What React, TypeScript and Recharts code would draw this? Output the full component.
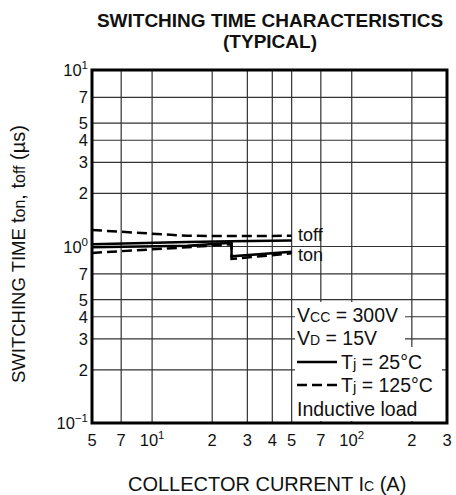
import { LineChart, Line, XAxis, YAxis, CartesianGrid, ReferenceArea } from 'recharts';

const FONT = '"Liberation Sans", Arial, Helvetica, sans-serif';

// axis ticks (log grid)
const X_TICKS = [5, 7, 10, 20, 30, 40, 50, 70, 100, 200, 300];
const Y_TICKS = [0.1, 0.2, 0.3, 0.4, 0.5, 0.7, 1, 2, 3, 4, 5, 7, 10];

// collector current (A)
const IC_OFF_125 = [5, 15, 25, 50];
const IC_OFF_25 = [5, 15, 25, 50];
const IC_ON_25 = [5, 15, 25, 25, 50];
const IC_ON_125 = [5, 15, 25, 25, 50];

// switching time (us)
const TOFF_125 = [1.24, 1.15, 1.145, 1.15];
const TOFF_25 = [1.03, 1.06, 1.07, 1.08];
const TON_25 = [0.99, 1.01, 1.05, 0.88, 0.935];
const TON_125 = [0.92, 0.99, 1.03, 0.85, 0.915];

const toPoints = (xs: number[], ys: number[]) => xs.map((x, i) => ({ x, y: ys[i] }));

const series = [
  { key: 'toff125', data: toPoints(IC_OFF_125, TOFF_125), dash: '10 5' },
  { key: 'toff25', data: toPoints(IC_OFF_25, TOFF_25), dash: undefined },
  { key: 'ton25', data: toPoints(IC_ON_25, TON_25), dash: undefined },
  { key: 'ton125', data: toPoints(IC_ON_125, TON_125), dash: '10 5' },
];

function tickText(v: number) {
  const e = Math.floor(Math.log10(v) + 1e-9);
  const mant = Math.round(v / Math.pow(10, e));
  if (mant === 1) {
    return [
      '10',
      <tspan key="s" dy={-7} fontSize={11.5}>
        {e < 0 ? '\u2212' + Math.abs(e) : String(e)}
      </tspan>,
    ];
  }
  return String(mant);
}

function XTick(props: any) {
  const { x, payload } = props;
  return (
    <text x={x} y={446} textAnchor="middle" fontSize={16.5} fontFamily={FONT} fill="#111">
      {tickText(payload.value)}
    </text>
  );
}

function YTick(props: any) {
  const { y, payload } = props;
  return (
    <text x={88} y={y + 6} textAnchor="end" fontSize={16.5} fontFamily={FONT} fill="#111">
      {tickText(payload.value)}
    </text>
  );
}

export default function App() {
  return (
    <div style={{ position: 'absolute', left: 0, top: 0, width: 456, height: 495, background: '#fff' }}>
      <LineChart width={456} height={495} margin={{ top: 70, right: 9, bottom: 0, left: 0 }}>
        <CartesianGrid stroke="#333" strokeWidth={1.2} />
        <XAxis
          dataKey="x"
          type="number"
          scale="log"
          domain={[5, 300]}
          ticks={X_TICKS}
          interval={0}
          allowDataOverflow
          axisLine={false}
          tickLine={false}
          height={72}
          tick={<XTick />}
        />
        <YAxis
          type="number"
          scale="log"
          domain={[0.1, 10]}
          ticks={Y_TICKS}
          interval={0}
          allowDataOverflow
          axisLine={false}
          tickLine={false}
          width={92}
          tick={<YTick />}
        />
        {series.map((s) => (
          <Line
            key={s.key}
            data={s.data}
            dataKey="y"
            type="linear"
            stroke="#000"
            strokeWidth={2.5}
            strokeDasharray={s.dash}
            dot={false}
            isAnimationActive={false}
          />
        ))}
        <ReferenceArea x1={5} x2={300} y1={0.1} y2={10} fill="none" stroke="#000" strokeWidth={3} ifOverflow="visible" />
      </LineChart>

      {/* titles, labels and the legend box */}
      <svg width={456} height={495} style={{ position: 'absolute', left: 0, top: 0, pointerEvents: 'none' }} fontFamily={FONT}>
        <text x={270} y={27} textAnchor="middle" fontSize={19} fontWeight="bold" fill="#111">
          SWITCHING TIME CHARACTERISTICS
        </text>
        <text x={270} y={48} textAnchor="middle" fontSize={19} fontWeight="bold" fill="#111">
          (TYPICAL)
        </text>

        <text transform="rotate(-90 25 383)" x={25} y={383} fontSize={18.5} fill="#111">
          SWITCHING TIME{'   '}
          <tspan fontSize={20}>t</tspan>
          <tspan fontSize={16}>on</tspan>
          <tspan fontSize={20}>, t</tspan>
          <tspan fontSize={16}>off</tspan>
          <tspan fontSize={20}> (µs)</tspan>
        </text>

        <text x={128} y={491} fontSize={20} fill="#111">
          COLLECTOR CURRENT{'  '}I<tspan fontSize={14}>C</tspan> (A)
        </text>

        <text x={298} y={241} fontSize={18} fill="#111">toff</text>
        <text x={298} y={261} fontSize={18} fill="#111">ton</text>

        <rect x={295} y={302} width={110} height={46} fill="#fff" />
        <rect x={295} y={347} width={147} height={74} fill="#fff" />
        <text x={297} y={322} fontSize={19.5} fill="#111">
          V<tspan fontSize={14}>CC</tspan> = 300V
        </text>
        <text x={297} y={345} fontSize={19.5} fill="#111">
          V<tspan fontSize={14}>D</tspan> = 15V
        </text>
        <line x1={297} x2={337} y1={362} y2={362} stroke="#000" strokeWidth={2.5} />
        <text x={341} y={369} fontSize={19.5} fill="#111">
          T<tspan fontSize={15}>j</tspan> = 25°C
        </text>
        <line x1={297} x2={337} y1={385} y2={385} stroke="#000" strokeWidth={2.5} strokeDasharray="10 5" />
        <text x={341} y={392} fontSize={19.5} fill="#111">
          T<tspan fontSize={15}>j</tspan> = 125°C
        </text>
        <text x={297} y={416} fontSize={19.5} fill="#111">
          Inductive load
        </text>
      </svg>
    </div>
  );
}
